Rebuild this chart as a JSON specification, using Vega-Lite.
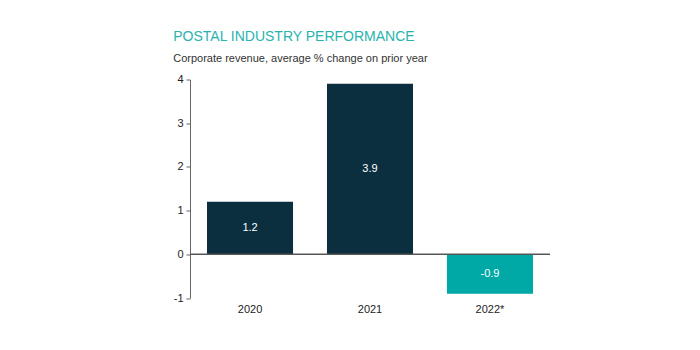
{
  "$schema": "https://vega.github.io/schema/vega-lite/v6.json",
  "autosize": {"type": "none"},
  "width": 360,
  "height": 218.5,
  "padding": {"left": 190, "top": 79.5, "right": 150, "bottom": 52},
  "background": "white",
  "config": {
    "view": {"stroke": null},
    "font": "Liberation Sans"
  },
  "title": {
    "text": "POSTAL INDUSTRY PERFORMANCE",
    "subtitle": "Corporate revenue, average % change on prior year",
    "anchor": "start",
    "frame": "bounds",
    "font": "Liberation Sans",
    "fontSize": 14,
    "fontWeight": "normal",
    "color": "#2ab3ae",
    "subtitleFont": "Liberation Sans",
    "subtitleFontSize": 11,
    "subtitleColor": "#333333",
    "subtitlePadding": 9,
    "offset": 10
  },
  "data": {
    "values": [
      {"year": "2020", "value": 1.2},
      {"year": "2021", "value": 3.9},
      {"year": "2022*", "value": -0.9}
    ]
  },
  "transform": [{"calculate": "datum.value / 2", "as": "mid"}],
  "encoding": {
    "x": {
      "field": "year",
      "type": "nominal",
      "sort": null,
      "scale": {"paddingInner": 0.283, "paddingOuter": 0.1417},
      "axis": {
        "title": null,
        "labelAngle": 0,
        "domain": false,
        "ticks": false,
        "labelPadding": 5,
        "labelFontSize": 11,
        "labelColor": "#222222",
        "labelFont": "Liberation Sans"
      }
    }
  },
  "layer": [
    {
      "mark": {"type": "bar"},
      "encoding": {
        "y": {
          "field": "value",
          "type": "quantitative",
          "scale": {"domain": [-1, 4], "nice": false},
          "axis": {
            "title": null,
            "values": [-1, 0, 1, 2, 3, 4],
            "labelExpr": "'' + datum.value",
            "grid": false,
            "domainColor": "#666666",
            "tickColor": "#666666",
            "tickSize": 4,
            "labelPadding": 3,
            "labelFontSize": 11,
            "labelColor": "#222222",
            "labelFont": "Liberation Sans"
          }
        },
        "y2": {"datum": 0},
        "color": {
          "condition": {"test": "datum.value < 0", "value": "#00a8a6"},
          "value": "#0c2f40"
        }
      }
    },
    {
      "mark": {"type": "rule", "color": "#555555", "strokeWidth": 1},
      "encoding": {
        "y": {"datum": 0, "type": "quantitative"},
        "x": null
      }
    },
    {
      "mark": {"type": "text", "color": "white", "fontSize": 11, "baseline": "middle", "align": "center", "font": "Liberation Sans"},
      "encoding": {
        "y": {"field": "mid", "type": "quantitative"},
        "text": {"field": "value", "type": "nominal"}
      }
    }
  ]
}
